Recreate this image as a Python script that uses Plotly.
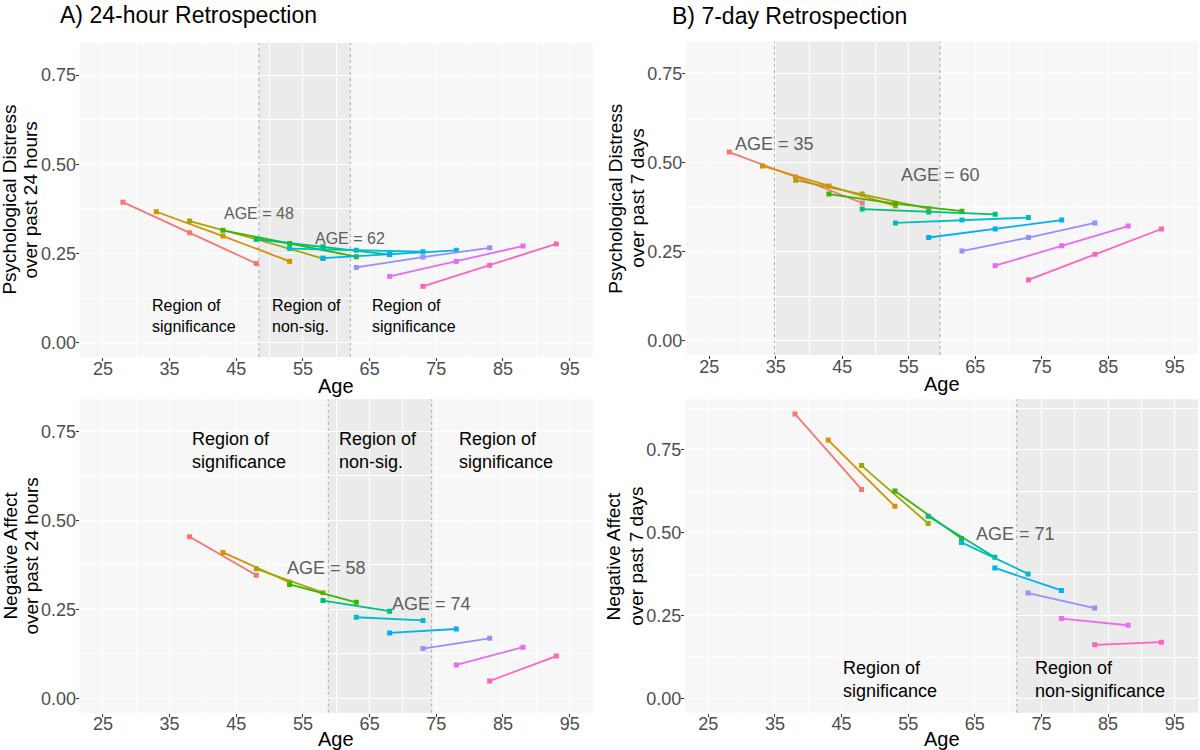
import plotly.graph_objects as go

# ---------------- data ----------------
# A) 24-hour retrospection, Psychological distress (3 waves per cohort)
pd24_ages = [[28, 38, 48], [33, 43, 53], [38, 48, 58], [43, 53, 63], [48, 58, 68],
             [53, 63, 73], [58, 68, 78], [63, 73, 83], [68, 78, 88], [73, 83, 93]]
pd24_vals = [[0.394, 0.308, 0.222], [0.367, 0.299, 0.228], [0.341, 0.290, 0.236],
             [0.315, 0.278, 0.241], [0.290, 0.269, 0.247], [0.264, 0.259, 0.255],
             [0.237, 0.247, 0.259], [0.211, 0.240, 0.266], [0.186, 0.228, 0.271],
             [0.158, 0.217, 0.277]]

# B) 7-day retrospection, Psychological distress
pd7_ages = [[28, 38, 48], [33, 43, 53], [38, 48, 58], [43, 53, 63], [48, 58, 68],
            [53, 63, 73], [58, 68, 78], [63, 73, 83], [68, 78, 88], [73, 83, 93]]
pd7_vals = [[0.530, 0.460, 0.387], [0.491, 0.435, 0.379], [0.451, 0.412, 0.371],
            [0.412, 0.385, 0.364], [0.370, 0.362, 0.355], [0.331, 0.339, 0.346],
            [0.290, 0.314, 0.339], [0.252, 0.290, 0.331], [0.211, 0.267, 0.322],
            [0.171, 0.243, 0.314]]

# A) 24-hour retrospection, Negative affect (2 waves per cohort)
na24_ages = [[38, 48], [43, 53], [48, 58], [53, 63], [58, 68],
             [63, 73], [68, 78], [73, 83], [78, 88], [83, 93]]
na24_vals = [[0.454, 0.346], [0.410, 0.326], [0.364, 0.297], [0.320, 0.270],
             [0.275, 0.245], [0.228, 0.219], [0.184, 0.195], [0.140, 0.169],
             [0.094, 0.144], [0.049, 0.119]]

# B) 7-day retrospection, Negative affect
na7_ages = [[38, 48], [43, 53], [48, 58], [53, 63], [58, 68],
            [63, 73], [68, 78], [73, 83], [78, 88], [83, 93]]
na7_vals = [[0.859, 0.631], [0.780, 0.580], [0.703, 0.528], [0.626, 0.483],
            [0.550, 0.426], [0.471, 0.376], [0.394, 0.326], [0.318, 0.273],
            [0.241, 0.221], [0.162, 0.170]]

# regions (Johnson-Neyman bounds)
pd24_region = [48.4, 62.1]
pd7_region = [34.8, 59.7]
na24_region = [58.8, 74.3]
na7_region = [71.3, 98.5]

x_ticks = [25, 35, 45, 55, 65, 75, 85, 95]
x_minor = [30, 40, 50, 60, 70, 80, 90]
y_ticks = [0.0, 0.25, 0.5, 0.75]
y_tick_text = ["0.00", "0.25", "0.50", "0.75"]
y_minor = [0.125, 0.375, 0.625, 0.875]

# ---------------- styles ----------------
colors = ["#F8766D", "#D89000", "#A3A500", "#39B600", "#00BF7D",
          "#00BFC4", "#00B0F6", "#9590FF", "#E76BF3", "#FF62BC"]
FONT = "Liberation Sans, Arial, sans-serif"
PANEL_BG = "#F7F7F7"
SHADE = "#EBEBEB"
W, H = 1200, 750

def px_x(p):
    return p / W

def px_y(p):
    return 1 - p / H

panels = [
    # (ages, vals, region, xdomain px, ydomain px, yrange)
    (pd24_ages, pd24_vals, pd24_region, (79.6, 593), (43, 357), [-0.04, 0.84]),
    (pd7_ages, pd7_vals, pd7_region, (686, 1198), (41.7, 355), [-0.04, 0.84]),
    (na24_ages, na24_vals, na24_region, (79.6, 593), (399.3, 712.7), [-0.04, 0.84]),
    (na7_ages, na7_vals, na7_region, (685, 1198), (399.3, 712.7), [-0.043, 0.903]),
]

fig = go.Figure()
layout = {}
shapes = []
annotations = []

for i, (ages, vals, region, xd, yd, yr) in enumerate(panels):
    n = i + 1
    xa = "x" if n == 1 else f"x{n}"
    ya = "y" if n == 1 else f"y{n}"
    xkey = "xaxis" if n == 1 else f"xaxis{n}"
    ykey = "yaxis" if n == 1 else f"yaxis{n}"
    layout[xkey] = dict(
        domain=[px_x(xd[0]), px_x(xd[1])], range=[21.5, 98.5], anchor=ya,
        tickvals=x_ticks, ticktext=[str(t) for t in x_ticks],
        showgrid=True, gridcolor="white", gridwidth=1.1, zeroline=False,
        showline=False, ticks="outside", ticklen=3, tickcolor="#333333", tickwidth=1,
        ticklabelstandoff=-8,
        tickfont=dict(family=FONT, size=18, color="#4D4D4D"),
        minor=dict(tickvals=x_minor, showgrid=True, gridcolor="white", gridwidth=0.6, ticklen=0),
        fixedrange=True,
    )
    layout[ykey] = dict(
        domain=[px_y(yd[1]), px_y(yd[0])], range=yr, anchor=xa,
        tickvals=y_ticks, ticktext=y_tick_text,
        showgrid=True, gridcolor="white", gridwidth=1.1, zeroline=False,
        showline=False, ticks="outside", ticklen=3, tickcolor="#333333", tickwidth=1,
        ticklabelstandoff=-4,
        tickfont=dict(family=FONT, size=18, color="#4D4D4D"),
        minor=dict(tickvals=y_minor, showgrid=True, gridcolor="white", gridwidth=0.6, ticklen=0),
        fixedrange=True,
    )
    # panel background
    shapes.append(dict(type="rect", xref=f"{xa} domain", yref=f"{ya} domain",
                       x0=0, x1=1, y0=0, y1=1, fillcolor=PANEL_BG, line_width=0,
                       layer="below"))
    # shaded region
    shapes.append(dict(type="rect", xref=xa, yref=f"{ya} domain",
                       x0=region[0], x1=region[1], y0=0, y1=1,
                       fillcolor=SHADE, line_width=0, layer="below"))
    for xb in region:
        if xb < 98:
            shapes.append(dict(type="line", xref=xa, yref=f"{ya} domain",
                               x0=xb, x1=xb, y0=0, y1=1,
                               line=dict(color="#A8A8A8", width=1, dash="dot"),
                               layer="below"))
    for k, (a, v) in enumerate(zip(ages, vals)):
        fig.add_trace(go.Scatter(
            x=a, y=v, xaxis=xa, yaxis=ya, mode="lines+markers",
            line=dict(color=colors[k], width=1.8),
            marker=dict(symbol="square", size=5, color=colors[k]),
            showlegend=False, hoverinfo="skip",
        ))

# ---------------- text ----------------
def txt(text, x, y, xref, yref, size, color="#000000", xanchor="center",
        yanchor="middle", angle=0, align="center"):
    annotations.append(dict(text=text, x=x, y=y, xref=xref, yref=yref,
                            showarrow=False, xanchor=xanchor, yanchor=yanchor,
                            textangle=angle, align=align,
                            font=dict(family=FONT, size=size, color=color)))

# panel titles
txt("A) 24-hour Retrospection", px_x(58), 1.0, "paper", "paper", 23, xanchor="left", yanchor="top")
txt("B) 7-day Retrospection", px_x(670), px_y(1), "paper", "paper", 23, xanchor="left", yanchor="top")

# x-axis titles
txt("Age", px_x(336.3), px_y(386), "paper", "paper", 20)
txt("Age", px_x(942), px_y(384), "paper", "paper", 20)
txt("Age", px_x(336.3), px_y(739), "paper", "paper", 20)
txt("Age", px_x(942), px_y(739), "paper", "paper", 20)

# y-axis titles (two lines each)
ytitles = [
    ("Psychological Distress", "over past 24 hours", 9.6, 30.6, 200),
    ("Psychological Distress", "over past 7 days", 615.3, 637.3, 198.4),
    ("Negative Affect", "over past 24 hours", 9.6, 30.6, 556),
    ("Negative Affect", "over past 7 days", 613.4, 635.8, 556),
]
for l1, l2, x1, x2, yc in ytitles:
    txt(l1, px_x(x1), px_y(yc), "paper", "paper", 19, angle=-90)
    txt(l2, px_x(x2), px_y(yc), "paper", "paper", 19, angle=-90)

GRAY = "#5E5E5E"
# panel A top
txt("AGE = 48", 48.4, 0.362, "x", "y", 16, GRAY)
txt("AGE = 62", 62.1, 0.292, "x", "y", 16, GRAY)
txt("Region of<br>significance", 32.1, 0.076, "x", "y", 16, xanchor="left", align="left")
txt("Region of<br>non-sig.", 50.1, 0.076, "x", "y", 16, xanchor="left", align="left")
txt("Region of<br>significance", 65.1, 0.076, "x", "y", 16, xanchor="left", align="left")
# panel B top
txt("AGE = 35", 34.8, 0.554, "x2", "y2", 18, GRAY)
txt("AGE = 60", 59.7, 0.465, "x2", "y2", 18, GRAY)
# panel A bottom
txt("AGE = 58", 58.6, 0.365, "x3", "y3", 18, GRAY)
txt("AGE = 74", 74.3, 0.264, "x3", "y3", 18, GRAY)
txt("Region of<br>significance", 38.05, 0.697, "x3", "y3", 18, xanchor="left", align="left")
txt("Region of<br>non-sig.", 60.05, 0.697, "x3", "y3", 18, xanchor="left", align="left")
txt("Region of<br>significance", 78.05, 0.697, "x3", "y3", 18, xanchor="left", align="left")
# panel B bottom
txt("AGE = 71", 71.1, 0.497, "x4", "y4", 18, GRAY)
txt("Region of<br>significance", 44.9, 0.057, "x4", "y4", 18, xanchor="left", align="left")
txt("Region of<br>non-significance", 73.8, 0.057, "x4", "y4", 18, xanchor="left", align="left")

fig.update_layout(
    width=W, height=H, margin=dict(l=0, r=0, t=0, b=0),
    paper_bgcolor="white", plot_bgcolor=PANEL_BG,
    shapes=shapes, annotations=annotations, showlegend=False,
    font=dict(family=FONT),
    **layout,
)

fig.write_html("out.html", config={"displayModeBar": False},
               post_script="document.body.style.margin='0';document.body.style.overflow='hidden';")
